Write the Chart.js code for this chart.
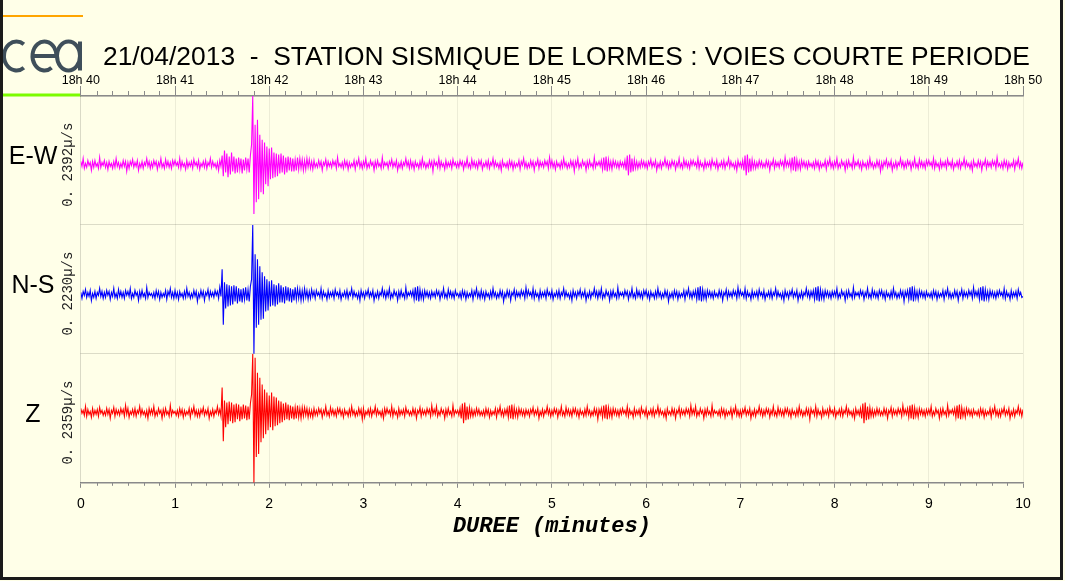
<!DOCTYPE html>
<html>
<head>
<meta charset="utf-8">
<script src="https://cdn.jsdelivr.net/npm/chart.js@4/dist/chart.umd.min.js"></script>
<style>
html,body{margin:0;padding:0;background:#FFFFE8;}
#wrap{width:1065px;height:581px;position:relative;}
</style>
</head>
<body>
<div id="wrap"><canvas id="c" width="1065" height="581"></canvas></div>
<script>
// ---------- DATA ----------
const chartTitle = '21/04/2013  -  STATION SISMIQUE DE LORMES : VOIES COURTE PERIODE';
const sampleStepMinutes = 0.0125;          // one value every 0.75 s
const durationTicks = [0,1,2,3,4,5,6,7,8,9,10];
const clockLabels = ['18h 40','18h 41','18h 42','18h 43','18h 44','18h 45','18h 46','18h 47','18h 48','18h 49','18h 50'];
const channelNames = ['E-W','N-S','Z'];
const channelScaleLabels = ['0. 2392µ/s ','0. 2230µ/s ','0. 2359µ/s '];
const xAxisTitle = 'DUREE (minutes)';

// E-W trace (values in display units)
const ewValues = [
3,-2,6,-4,1,-3,4,-1,2,-6,3,-3,4,-2,1,-4,7,-3,2,-1,
4,-3,2,-5,3,-2,1,-4,3,-3,6,-2,2,-4,1,-3,4,-2,3,-7,
2,-4,3,-1,5,-3,2,-2,4,-6,1,-3,3,-4,2,-1,6,-2,3,-4,
2,-3,4,-1,3,-5,2,-2,6,-3,1,-4,5,-2,3,-3,2,-4,4,-1,
4,-1,2,-3,6,-4,3,-2,1,-5,4,-3,2,-2,3,-4,5,-1,2,-3,
4,-5,1,-2,3,-3,4,-4,2,-1,6,-3,3,-2,1,-4,2,-6,4,-2,
9,-12,14,-8,11,-13,8,-10,12,-7,8,-9,6,-8,7,-5,6,-9,5,-6,
7,-5,6,-8,9,20,69,-50,40,-38,45,-35,30,-28,25,-30,22,-20,18,-22,
16,-15,17,-14,12,-13,11,-12,10,-9,11,-8,9,-10,7,-8,8,-6,7,-7,
6,-7,5,-6,7,-5,6,-4,5,-6,4,-5,6,-3,5,-4,3,-5,4,-3,
1,-3,4,-2,3,-6,2,-1,5,-4,3,-2,2,-3,4,-1,3,-4,7,-2,
1,-3,2,-4,4,-2,3,-5,2,-3,1,-2,4,-5,3,-1,6,-3,2,-4,
3,-2,6,-4,1,-3,4,-1,2,-6,3,-3,4,-2,1,-4,7,-3,2,-1,
2,-4,3,-1,5,-3,2,-2,4,-6,1,-3,3,-4,2,-1,6,-2,3,-4,
4,-3,2,-5,3,-2,1,-4,3,-3,6,-2,2,-4,1,-3,4,-2,3,-7,
4,-1,2,-3,6,-4,3,-2,1,-5,4,-3,2,-2,3,-4,5,-1,2,-3,
2,-3,4,-1,3,-5,2,-2,6,-3,1,-4,5,-2,3,-3,2,-4,4,-1,
4,-5,1,-2,3,-3,4,-4,2,-1,6,-3,3,-2,1,-4,2,-6,4,-2,
1,-3,2,-4,4,-2,3,-5,2,-3,1,-2,4,-5,3,-1,6,-3,2,-4,
1,-3,4,-2,3,-6,2,-1,5,-4,3,-2,2,-3,4,-1,3,-4,7,-2,
4,-3,2,-5,3,-2,1,-4,3,-3,6,-2,2,-4,1,-3,4,-2,3,-7,
3,-2,6,-4,1,-3,4,-1,2,-6,3,-3,4,-2,1,-4,7,-3,2,-1,
3,-2,4,-5,7,-6,8,-7,5,-4,3,-5,4,-2,3,-3,2,-4,3,-2,
2,-3,4,-6,9,-11,10,-8,6,-7,5,-4,3,-4,2,-3,4,-2,3,-3,
2,-4,3,-1,5,-3,2,-2,4,-6,1,-3,3,-4,2,-1,6,-2,3,-4,
2,-3,4,-1,3,-5,2,-2,6,-3,1,-4,5,-2,3,-3,2,-4,4,-1,
4,-1,2,-3,6,-4,3,-2,1,-5,4,-3,2,-2,3,-4,5,-1,2,-3,
4,-5,1,-2,3,-3,4,-4,2,-1,6,-3,3,-2,1,-4,2,-6,4,-2,
2,-3,4,-6,9,-11,10,-8,6,-7,5,-4,3,-4,2,-3,4,-2,3,-3,
1,-3,4,-2,3,-6,2,-1,5,-4,3,-2,2,-3,4,-1,3,-4,7,-2,
3,-2,4,-5,7,-6,8,-7,5,-4,3,-5,4,-2,3,-3,2,-4,3,-2,
1,-3,2,-4,4,-2,3,-5,2,-3,1,-2,4,-5,3,-1,6,-3,2,-4,
3,-2,6,-4,1,-3,4,-1,2,-6,3,-3,4,-2,1,-4,7,-3,2,-1,
4,-3,2,-5,3,-2,1,-4,3,-3,6,-2,2,-4,1,-3,4,-2,3,-7,
2,-4,3,-1,5,-3,2,-2,4,-6,1,-3,3,-4,2,-1,6,-2,3,-4,
2,-3,4,-1,3,-5,2,-2,6,-3,1,-4,5,-2,3,-3,2,-4,4,-1,
4,-1,2,-3,6,-4,3,-2,1,-5,4,-3,2,-2,3,-4,5,-1,2,-3,
4,-5,1,-2,3,-3,4,-4,2,-1,6,-3,3,-2,1,-4,2,-6,4,-2,
1,-3,4,-2,3,-6,2,-1,5,-4,3,-2,2,-3,4,-1,3,-4,7,-2,
1,-3,2,-4,4,-2,3,-5,2,-3,1,-2,4,-5,3,-1,6,-3,2,-4,
2
];

// N-S trace
const nsValues = [
2,-4,3,-1,5,-3,2,-2,4,-6,1,-3,3,-4,2,-1,6,-2,3,-4,
2,-3,4,-1,3,-5,2,-2,6,-3,1,-4,5,-2,3,-3,2,-4,4,-1,
3,-2,6,-4,1,-3,4,-1,2,-6,3,-3,4,-2,1,-4,7,-3,2,-1,
1,-3,2,-4,4,-2,3,-5,2,-3,1,-2,4,-5,3,-1,6,-3,2,-4,
4,-3,2,-5,3,-2,1,-4,3,-3,6,-2,2,-4,1,-3,4,-2,3,-7,
1,-3,4,-2,3,-6,2,-1,5,-4,3,-2,2,-3,4,-1,3,-4,7,-2,
25,-30,12,-14,10,-12,9,-11,8,-10,9,-7,8,-9,6,-7,5,-8,6,-5,
7,-6,5,-7,8,15,69,-60,40,-33,35,-30,28,-25,22,-24,18,-17,15,-16,
13,-12,14,-11,10,-12,9,-10,11,-8,9,-8,7,-9,8,-6,7,-7,6,-8,
5,-6,7,-5,6,-4,5,-6,4,-5,6,-3,4,-5,3,-4,5,-2,3,-4,
4,-1,2,-3,6,-4,3,-2,1,-5,4,-3,2,-2,3,-4,5,-1,2,-3,
4,-5,1,-2,3,-3,4,-4,2,-1,6,-3,3,-2,1,-4,2,-6,4,-2,
2,-4,3,-1,5,-3,2,-2,4,-6,1,-3,3,-4,2,-1,6,-2,3,-4,
3,-2,6,-4,1,-3,4,-1,2,-6,3,-3,4,-2,1,-4,7,-3,2,-1,
3,-2,4,-5,7,-6,8,-7,5,-4,3,-5,4,-2,3,-3,2,-4,3,-2,
2,-3,4,-1,3,-5,2,-2,6,-3,1,-4,5,-2,3,-3,2,-4,4,-1,
1,-3,2,-4,4,-2,3,-5,2,-3,1,-2,4,-5,3,-1,6,-3,2,-4,
4,-3,2,-5,3,-2,1,-4,3,-3,6,-2,2,-4,1,-3,4,-2,3,-7,
1,-3,4,-2,3,-6,2,-1,5,-4,3,-2,2,-3,4,-1,3,-4,7,-2,
4,-1,2,-3,6,-4,3,-2,1,-5,4,-3,2,-2,3,-4,5,-1,2,-3,
4,-5,1,-2,3,-3,4,-4,2,-1,6,-3,3,-2,1,-4,2,-6,4,-2,
2,-4,3,-1,5,-3,2,-2,4,-6,1,-3,3,-4,2,-1,6,-2,3,-4,
3,-2,6,-4,1,-3,4,-1,2,-6,3,-3,4,-2,1,-4,7,-3,2,-1,
2,-3,4,-1,3,-5,2,-2,6,-3,1,-4,5,-2,3,-3,2,-4,4,-1,
4,-3,2,-5,3,-2,1,-4,3,-3,6,-2,2,-4,1,-3,4,-2,3,-7,
1,-3,2,-4,4,-2,3,-5,2,-3,1,-2,4,-5,3,-1,6,-3,2,-4,
3,-2,4,-5,7,-6,8,-7,5,-4,3,-5,4,-2,3,-3,2,-4,3,-2,
1,-3,4,-2,3,-6,2,-1,5,-4,3,-2,2,-3,4,-1,3,-4,7,-2,
4,-1,2,-3,6,-4,3,-2,1,-5,4,-3,2,-2,3,-4,5,-1,2,-3,
4,-5,1,-2,3,-3,4,-4,2,-1,6,-3,3,-2,1,-4,2,-6,4,-2,
2,-4,3,-1,5,-3,2,-2,4,-6,1,-3,3,-4,2,-1,6,-2,3,-4,
3,-2,4,-5,7,-6,8,-7,5,-4,3,-5,4,-2,3,-3,2,-4,3,-2,
3,-2,6,-4,1,-3,4,-1,2,-6,3,-3,4,-2,1,-4,7,-3,2,-1,
2,-3,4,-1,3,-5,2,-2,6,-3,1,-4,5,-2,3,-3,2,-4,4,-1,
4,-3,2,-5,3,-2,1,-4,3,-3,6,-2,2,-4,1,-3,4,-2,3,-7,
3,-2,4,-5,7,-6,8,-7,5,-4,3,-5,4,-2,3,-3,2,-4,3,-2,
1,-3,2,-4,4,-2,3,-5,2,-3,1,-2,4,-5,3,-1,6,-3,2,-4,
1,-3,4,-2,3,-6,2,-1,5,-4,3,-2,2,-3,4,-1,3,-4,7,-2,
3,-2,4,-5,7,-6,8,-7,5,-4,3,-5,4,-2,3,-3,2,-4,3,-2,
4,-1,2,-3,6,-4,3,-2,1,-5,4,-3,2,-2,3,-4,5,-1,2,-3,
-2
];

// Z trace
const zValues = [
4,-1,2,-3,6,-4,3,-2,1,-5,4,-3,2,-2,3,-4,5,-1,2,-3,
1,-3,4,-2,3,-6,2,-1,5,-4,3,-2,2,-3,4,-1,3,-4,7,-2,
4,-5,1,-2,3,-3,4,-4,2,-1,6,-3,3,-2,1,-4,2,-6,4,-2,
3,-2,6,-4,1,-3,4,-1,2,-6,3,-3,4,-2,1,-4,7,-3,2,-1,
1,-3,2,-4,4,-2,3,-5,2,-3,1,-2,4,-5,3,-1,6,-3,2,-4,
2,-4,3,-1,5,-3,2,-2,4,-6,1,-3,3,-4,2,-1,6,-2,3,-4,
25,-29,12,-15,10,-12,11,-9,10,-11,8,-10,9,-7,8,-9,6,-7,8,-6,
7,-8,6,-7,9,18,59,-71,55,-45,40,-42,35,-30,28,-26,23,-22,20,-18,
17,-15,20,-18,16,-14,15,-13,12,-11,11,-10,9,-8,10,-7,8,-8,7,-6,
6,-7,5,-6,7,-5,4,-6,5,-4,5,-3,4,-5,3,-4,2,-5,4,-3,
2,-3,4,-1,3,-5,2,-2,6,-3,1,-4,5,-2,3,-3,2,-4,4,-1,
4,-3,2,-5,3,-2,1,-4,3,-3,6,-2,2,-4,1,-3,4,-2,3,-7,
4,-5,1,-2,3,-3,4,-4,2,-1,6,-3,3,-2,1,-4,2,-6,4,-2,
4,-1,2,-3,6,-4,3,-2,1,-5,4,-3,2,-2,3,-4,5,-1,2,-3,
1,-3,4,-2,3,-6,2,-1,5,-4,3,-2,2,-3,4,-1,3,-4,7,-2,
3,-2,6,-4,1,-3,4,-1,2,-6,3,-3,4,-2,1,-4,7,-3,2,-1,
2,-3,4,-6,9,-11,10,-8,6,-7,5,-4,3,-4,2,-3,4,-2,3,-3,
1,-3,2,-4,4,-2,3,-5,2,-3,1,-2,4,-5,3,-1,6,-3,2,-4,
3,-2,4,-5,7,-6,8,-7,5,-4,3,-5,4,-2,3,-3,2,-4,3,-2,
2,-4,3,-1,5,-3,2,-2,4,-6,1,-3,3,-4,2,-1,6,-2,3,-4,
2,-3,4,-1,3,-5,2,-2,6,-3,1,-4,5,-2,3,-3,2,-4,4,-1,
4,-3,2,-5,3,-2,1,-4,3,-3,6,-2,2,-4,1,-3,4,-2,3,-7,
3,-2,4,-5,7,-6,8,-7,5,-4,3,-5,4,-2,3,-3,2,-4,3,-2,
4,-1,2,-3,6,-4,3,-2,1,-5,4,-3,2,-2,3,-4,5,-1,2,-3,
4,-5,1,-2,3,-3,4,-4,2,-1,6,-3,3,-2,1,-4,2,-6,4,-2,
1,-3,4,-2,3,-6,2,-1,5,-4,3,-2,2,-3,4,-1,3,-4,7,-2,
3,-2,6,-4,1,-3,4,-1,2,-6,3,-3,4,-2,1,-4,7,-3,2,-1,
1,-3,2,-4,4,-2,3,-5,2,-3,1,-2,4,-5,3,-1,6,-3,2,-4,
2,-4,3,-1,5,-3,2,-2,4,-6,1,-3,3,-4,2,-1,6,-2,3,-4,
2,-3,4,-1,3,-5,2,-2,6,-3,1,-4,5,-2,3,-3,2,-4,4,-1,
4,-3,2,-5,3,-2,1,-4,3,-3,6,-2,2,-4,1,-3,4,-2,3,-7,
4,-1,2,-3,6,-4,3,-2,1,-5,4,-3,2,-2,3,-4,5,-1,2,-3,
4,-5,1,-2,3,-3,4,-4,2,-1,6,-3,3,-2,1,-4,2,-6,4,-2,
2,-3,4,-6,9,-11,10,-8,6,-7,5,-4,3,-4,2,-3,4,-2,3,-3,
1,-3,4,-2,3,-6,2,-1,5,-4,3,-2,2,-3,4,-1,3,-4,7,-2,
3,-2,4,-5,7,-6,8,-7,5,-4,3,-5,4,-2,3,-3,2,-4,3,-2,
3,-2,6,-4,1,-3,4,-1,2,-6,3,-3,4,-2,1,-4,7,-3,2,-1,
3,-2,4,-5,7,-6,8,-7,5,-4,3,-5,4,-2,3,-3,2,-4,3,-2,
1,-3,2,-4,4,-2,3,-5,2,-3,1,-2,4,-5,3,-1,6,-3,2,-4,
2,-4,3,-1,5,-3,2,-2,4,-6,1,-3,3,-4,2,-1,6,-2,3,-4,
3
];

// ---------- CHART ----------
const BG = '#FFFFE8';
const AXIS_GRAY = '#8a8a8a';
const GRID = 'rgba(0,0,0,0.07)';

function toPoints(values) {
  return values.map((v, i) => ({ x: i * sampleStepMinutes, y: v }));
}

const decorPlugin = {
  id: 'decor',
  beforeDraw(chart) {
    const ctx = chart.ctx;
    ctx.save();
    ctx.fillStyle = BG;
    ctx.fillRect(0, 0, chart.width, chart.height);
    // logo bars
    ctx.strokeStyle = '#FFA500'; ctx.lineWidth = 2;
    ctx.beginPath(); ctx.moveTo(3, 16); ctx.lineTo(83, 16); ctx.stroke();
    ctx.strokeStyle = '#7CFC00'; ctx.lineWidth = 3;
    ctx.beginPath(); ctx.moveTo(3, 95); ctx.lineTo(81, 95); ctx.stroke();
    // cea logo
    ctx.strokeStyle = '#3f4f5a'; ctx.lineWidth = 4;
    ctx.beginPath(); ctx.ellipse(16.5, 56, 12.5, 14.5, 0, 0.3 * Math.PI, 1.7 * Math.PI); ctx.stroke();
    ctx.beginPath(); ctx.ellipse(44.5, 56, 12, 14.5, 0, 0.3 * Math.PI, 2 * Math.PI); ctx.stroke();
    ctx.beginPath(); ctx.moveTo(32.5, 56); ctx.lineTo(56.5, 56); ctx.stroke();
    ctx.beginPath(); ctx.ellipse(68.5, 56, 11.5, 14.5, 0, 0, 2 * Math.PI); ctx.stroke();
    ctx.beginPath(); ctx.moveTo(80, 41.5); ctx.lineTo(80, 70.5); ctx.stroke();
    // title
    ctx.fillStyle = '#000';
    ctx.font = '26.4px "Liberation Sans", Arial, sans-serif';
    ctx.textAlign = 'left';
    ctx.textBaseline = 'alphabetic';
    ctx.fillText(chartTitle, 103, 65);
    ctx.restore();
  },
  afterDraw(chart) {
    const ctx = chart.ctx;
    const area = chart.chartArea;
    const xs = chart.scales.x;
    ctx.save();
    // minor ticks every 10 s
    ctx.strokeStyle = AXIS_GRAY; ctx.lineWidth = 1;
    for (let k = 1; k < 60; k++) {
      if (k % 6 === 0) continue;
      const px = Math.round(xs.getPixelForValue(k / 6)) + 0.5;
      ctx.beginPath(); ctx.moveTo(px, area.top); ctx.lineTo(px, area.top - 5); ctx.stroke();
      ctx.beginPath(); ctx.moveTo(px, area.bottom); ctx.lineTo(px, area.bottom + 3); ctx.stroke();
    }
    // channel names
    ctx.fillStyle = '#000';
    ctx.font = '25px "Liberation Sans", Arial, sans-serif';
    ctx.textAlign = 'center';
    ctx.textBaseline = 'middle';
    ['yEW', 'yNS', 'yZ'].forEach((id, i) => {
      const s = chart.scales[id];
      ctx.fillText(channelNames[i], 33, (s.top + s.bottom) / 2 - 3);
    });
    // frame
    ctx.fillStyle = '#1a1a1a';
    ctx.fillRect(0, 0, 3, 580);
    ctx.fillRect(1060, 0, 3, 580);
    ctx.fillRect(0, 577, 1063, 3);
    ctx.restore();
  }
};

function yAxis(idx, min, max, weight) {
  return {
    type: 'linear',
    position: 'left',
    stack: 'channels',
    stackWeight: 1,
    weight: weight,
    min: min,
    max: max,
    afterBuildTicks: (scale) => { scale.ticks = [{ value: min }, { value: max }]; },
    ticks: { display: false },
    grid: { color: GRID, drawTicks: false },
    border: { color: 'rgba(0,0,0,0.08)' },
    title: {
      display: true,
      text: channelScaleLabels[idx],
      color: '#222',
      font: { family: '"Liberation Mono", "DejaVu Sans Mono", monospace', size: 14 },
      padding: { top: 4, bottom: 4 }
    }
  };
}

new Chart(document.getElementById('c'), {
  type: 'line',
  data: {
    datasets: [
      { label: channelNames[0], data: toPoints(ewValues), xAxisID: 'x', yAxisID: 'yEW', borderColor: '#FF00FF', borderWidth: 1.1, pointRadius: 0, tension: 0 },
      { label: channelNames[1], data: toPoints(nsValues), xAxisID: 'x', yAxisID: 'yNS', borderColor: '#0000FF', borderWidth: 1.1, pointRadius: 0, tension: 0 },
      { label: channelNames[2], data: toPoints(zValues), xAxisID: 'x', yAxisID: 'yZ', borderColor: '#FF0000', borderWidth: 1.1, pointRadius: 0, tension: 0 }
    ]
  },
  options: {
    responsive: false,
    animation: false,
    devicePixelRatio: 1,
    layout: { padding: { left: 56, right: 42, top: 75, bottom: 32 } },
    plugins: { legend: { display: false }, tooltip: { enabled: false }, title: { display: false } },
    scales: {
      x: {
        type: 'linear',
        position: 'bottom',
        min: 0, max: 10,
        afterBuildTicks: (scale) => { scale.ticks = durationTicks.map(v => ({ value: v })); },
        ticks: { color: '#000', padding: 8, font: { family: '"Liberation Sans", Arial, sans-serif', size: 14 }, maxRotation: 0 },
        grid: { color: GRID, tickColor: AXIS_GRAY, tickLength: 5 },
        border: { color: AXIS_GRAY, width: 1.5 },
        title: {
          display: true,
          text: xAxisTitle,
          color: '#000',
          font: { family: '"Liberation Mono", "DejaVu Sans Mono", monospace', size: 22, weight: 'bold', style: 'italic' },
          padding: { top: -7, bottom: 9 }
        }
      },
      xTop: {
        type: 'linear',
        position: 'top',
        min: 0, max: 10,
        afterBuildTicks: (scale) => { scale.ticks = durationTicks.map(v => ({ value: v })); },
        ticks: {
          color: '#000', padding: -2, maxRotation: 0,
          font: { family: '"Liberation Sans", Arial, sans-serif', size: 12.5 },
          callback: (v) => clockLabels[durationTicks.indexOf(v)]
        },
        grid: { drawOnChartArea: false, tickColor: AXIS_GRAY, tickLength: 10 },
        border: { color: AXIS_GRAY, width: 1.5 }
      },
      yZ: yAxis(2, -71, 59, 1),
      yNS: yAxis(1, -59, 69, 2),
      yEW: yAxis(0, -61, 69, 3)
    }
  },
  plugins: [decorPlugin]
});
</script>
</body>
</html>
